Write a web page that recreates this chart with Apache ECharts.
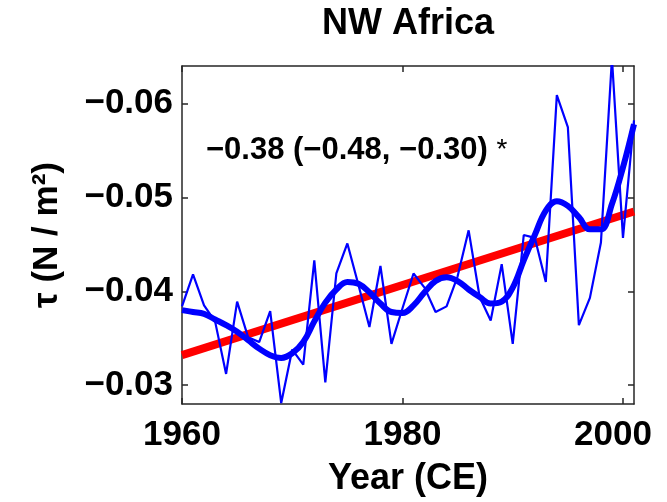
<!DOCTYPE html>
<html>
<head>
<meta charset="utf-8">
<script src="https://cdn.jsdelivr.net/npm/echarts@6/dist/echarts.min.js"></script>
<style>html,body{margin:0;padding:0;background:#fff}#c{width:667px;height:502px}</style>
</head>
<body>
<div id="c"></div>
<script>
const years = [1960,1961,1962,1963,1964,1965,1966,1967,1968,1969,1970,1971,1972,1973,1974,1975,1976,1977,1978,1979,1980,1981,1982,1983,1984,1985,1986,1987,1988,1989,1990,1991,1992,1993,1994,1995,1996,1997,1998,1999,2000,2001];
const annual = [-0.0384,-0.0418,-0.0385,-0.0368,-0.0312,-0.0389,-0.0351,-0.0346,-0.0379,-0.0281,-0.0338,-0.0322,-0.0433,-0.0303,-0.0419,-0.0451,-0.0407,-0.0362,-0.0427,-0.0344,-0.0382,-0.0419,-0.0404,-0.0378,-0.0384,-0.0416,-0.0465,-0.0394,-0.0369,-0.0429,-0.0344,-0.0460,-0.0457,-0.0410,-0.0609,-0.0575,-0.0364,-0.0393,-0.0452,-0.0648,-0.0457,-0.0582];
const smoothed = [-0.0380,-0.0378,-0.0376,-0.0370,-0.0364,-0.0357,-0.0348,-0.0339,-0.0332,-0.0329,-0.0334,-0.0346,-0.0368,-0.0388,-0.0402,-0.0410,-0.0408,-0.0399,-0.0387,-0.0378,-0.0377,-0.0385,-0.0399,-0.0411,-0.0415,-0.0411,-0.0402,-0.0394,-0.0387,-0.0389,-0.0404,-0.0433,-0.0460,-0.0486,-0.0496,-0.0491,-0.0479,-0.0466,-0.0466,-0.0493,-0.0532,-0.0578];
const trendYears = [1960, 2001];
const trendValues = [-0.0332, -0.0485];
const xTicks = [1960, 1980, 2000];
const yTicks = [-0.06, -0.05, -0.04, -0.03];
const titleText = 'NW Africa';
const trendText = '−0.38 (−0.48, −0.30)';
const xName = 'Year (CE)';
const yName = 'τ (N / m²)';

const FONT = '"Liberation Sans", Arial, sans-serif';
const pair = (xs, ys) => xs.map((x, i) => [x, ys[i]]);
const fmtY = v => '−' + Math.abs(v).toFixed(2);
const axisLineStyle = { color: '#262626', width: 1.5 };

const chart = echarts.init(document.getElementById('c'), null, { renderer: 'canvas' });
chart.setOption({
  animation: false,
  backgroundColor: '#ffffff',
  grid: { left: 182, right: 33, top: 66, bottom: 96, containLabel: false },
  xAxis: [
    {
      type: 'value', min: 1960, max: 2001, position: 'bottom',
      name: xName, nameLocation: 'middle', nameGap: 57,
      nameTextStyle: { fontFamily: FONT, fontWeight: 'bold', fontSize: 36, color: '#000' },
      axisLine: { show: true, lineStyle: axisLineStyle },
      axisTick: { show: true, inside: true, length: 6, lineStyle: axisLineStyle, customValues: xTicks },
      axisLabel: {
        show: true, margin: 14, fontFamily: FONT, fontWeight: 'bold', fontSize: 35, color: '#000',
        customValues: xTicks,
        formatter: v => v === 2000 ? '{r|2000}' : String(v),
        rich: { r: { fontFamily: FONT, fontWeight: 'bold', fontSize: 35, color: '#000', padding: [0, 20, 0, 0] } }
      },
      splitLine: { show: false }
    },
    {
      type: 'value', min: 1960, max: 2001, position: 'top',
      axisLine: { show: true, lineStyle: axisLineStyle },
      axisTick: { show: true, inside: true, length: 6, lineStyle: axisLineStyle, customValues: xTicks },
      axisLabel: { show: false },
      splitLine: { show: false }
    }
  ],
  yAxis: [
    {
      type: 'value', min: -0.064, max: -0.028, inverse: true, position: 'left',
      name: yName, nameLocation: 'middle', nameGap: 117, nameRotate: 90,
      nameTextStyle: { fontFamily: FONT, fontWeight: 'bold', fontSize: 35, color: '#000' },
      axisLine: { show: true, lineStyle: axisLineStyle },
      axisTick: { show: true, inside: true, length: 6, lineStyle: axisLineStyle, customValues: yTicks },
      axisLabel: {
        show: true, margin: 9, fontFamily: FONT, fontWeight: 'bold', fontSize: 35, color: '#000',
        customValues: yTicks, formatter: fmtY
      },
      splitLine: { show: false }
    },
    {
      type: 'value', min: -0.064, max: -0.028, inverse: true, position: 'right',
      axisLine: { show: true, lineStyle: axisLineStyle },
      axisTick: { show: true, inside: true, length: 6, lineStyle: axisLineStyle, customValues: yTicks },
      axisLabel: { show: false },
      splitLine: { show: false }
    }
  ],
  series: [
    {
      name: 'trend', type: 'line', data: pair(trendYears, trendValues),
      showSymbol: false, symbol: 'none', clip: true,
      lineStyle: { color: '#ff0000', width: 8 }, z: 2
    },
    {
      name: 'annual', type: 'line', data: pair(years, annual),
      showSymbol: false, symbol: 'none', clip: true,
      lineStyle: { color: '#0000ff', width: 2.2 }, z: 3
    },
    {
      name: 'smoothed', type: 'line', data: pair(years, smoothed),
      showSymbol: false, symbol: 'none', clip: true, smooth: 0.4,
      lineStyle: { color: '#0000ff', width: 6 }, z: 4
    }
  ],
  graphic: [
    {
      type: 'text', x: 408, y: 6, z: 10,
      style: { text: titleText, font: 'bold 36px ' + FONT, fill: '#000', align: 'center', verticalAlign: 'top' }
    },
    {
      type: 'text', x: 206, y: 135, z: 10,
      style: {
        text: '{a|' + trendText + ' }{b|*}', align: 'left', verticalAlign: 'top',
        rich: {
          a: { fontFamily: FONT, fontWeight: 'bold', fontSize: 31, fill: '#000', color: '#000' },
          b: { fontFamily: FONT, fontWeight: 'normal', fontSize: 28, fill: '#000', color: '#000' }
        }
      }
    }
  ]
});
</script>
</body>
</html>
